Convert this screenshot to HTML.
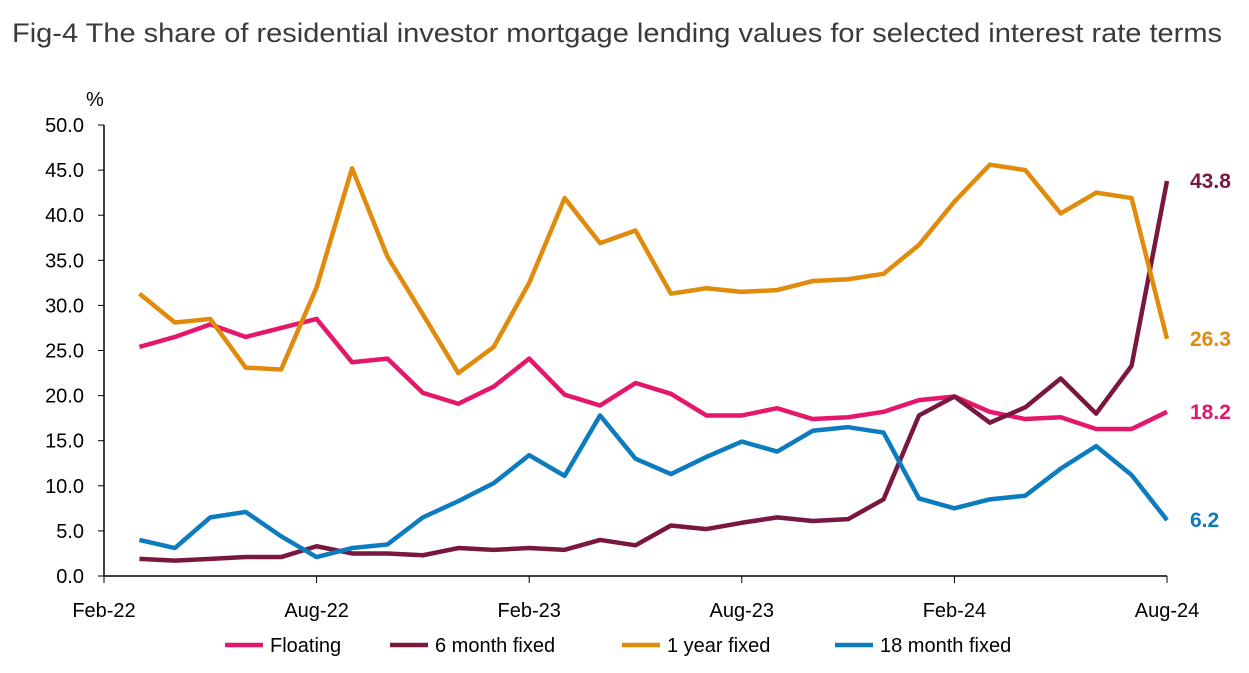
<!DOCTYPE html>
<html><head><meta charset="utf-8"><style>
body{margin:0;background:#fff;font-family:"Liberation Sans",sans-serif;}
</style></head><body>
<svg width="1249" height="668" xmlns="http://www.w3.org/2000/svg" font-family="Liberation Sans, sans-serif">
<text x="12" y="42" font-size="27" fill="#3a3a3a" textLength="1210" lengthAdjust="spacingAndGlyphs">Fig-4 The share of residential investor mortgage lending values for selected interest rate terms</text>
<g id="axes"></g>
<g id="series"></g>
<g id="legend"></g>
</svg>
<script>
const tickLabelsX=["Feb-22","Aug-22","Feb-23","Aug-23","Feb-24","Aug-24"];
const tickValuesY=[0,5,10,15,20,25,30,35,40,45,50];
const floating=[25.4,26.5,27.9,26.5,27.5,28.5,23.7,24.1,20.3,19.1,21.0,24.1,20.1,18.9,21.4,20.2,17.8,17.8,18.6,17.4,17.6,18.2,19.5,19.9,18.2,17.4,17.6,16.3,16.3,18.2];
const sixMonth=[1.9,1.7,1.9,2.1,2.1,3.3,2.5,2.5,2.3,3.1,2.9,3.1,2.9,4.0,3.4,5.6,5.2,5.9,6.5,6.1,6.3,8.5,17.8,19.9,17.0,18.7,21.9,18.0,23.3,43.8];
const oneYear=[31.3,28.1,28.5,23.1,22.9,32.0,45.2,35.4,29.0,22.5,25.4,32.5,41.9,36.9,38.3,31.3,31.9,31.5,31.7,32.7,32.9,33.5,36.7,41.5,45.6,45.0,40.2,42.5,41.9,26.3];
const eighteenMonth=[4.0,3.1,6.5,7.1,4.4,2.1,3.1,3.5,6.5,8.3,10.3,13.4,11.1,17.8,13.0,11.3,13.2,14.9,13.8,16.1,16.5,15.9,8.6,7.5,8.5,8.9,11.9,14.4,11.2,6.2];
const seriesNames=["Floating","6 month fixed","1 year fixed","18 month fixed"];
const NS="http://www.w3.org/2000/svg";
const x0=104,x1=1167,y0=576,y1=125;
const xm=m=>x0+(x1-x0)*m/30;
const y=v=>y0+(y1-y0)*v/50;
function mk(tag,attrs,parent,text){const e=document.createElementNS(NS,tag);for(const k in attrs)e.setAttribute(k,attrs[k]);if(text!==undefined)e.textContent=text;parent.appendChild(e);return e;}
const ax=document.getElementById('axes');
let l=mk('line',{x1:x0,y1:y0,x2:x0,y2:y1,stroke:'#000','stroke-width':1.5},ax);


l=mk('line',{x1:x0,y1:y0,x2:x1,y2:y0,stroke:'#000','stroke-width':1.5},ax);


let t=mk('text',{x:86,y:106,'font-size':20,fill:'#000'},ax,'%');


tickValuesY.forEach(v=>{
  mk('line',{x1:x0-6,y1:y(v),x2:x0,y2:y(v),stroke:'#000'},ax);
  const tt=mk('text',{x:84,y:y(v)+7,'font-size':20,'text-anchor':'end',fill:'#000'},ax,v.toFixed(1));
  
  
});
tickLabelsX.forEach((s,i)=>{
  const xx=xm(i*6);
  mk('line',{x1:xx,y1:y0,x2:xx,y2:y0+7,stroke:'#000'},ax);
  const tt=mk('text',{x:xx,y:617,'font-size':20,'text-anchor':'middle',fill:'#000'},ax,s);
  
  
});
const colors=["#e5176a","#7a173f","#e08b0b","#0d7cbf"];
const data=[floating,sixMonth,oneYear,eighteenMonth];
const sg=document.getElementById('series');
data.forEach((d,k)=>{
  const pts=d.map((v,i)=>xm(i+1)+','+y(v)).join(' ');
  const p=mk('polyline',{points:pts,fill:'none',stroke:colors[k],'stroke-width':4.5,'stroke-linejoin':'round'},sg);
  
  
  const last=d[d.length-1];
  const lt=mk('text',{x:1190,y:y(last)+7,'font-size':21,'font-weight':'bold',fill:colors[k]},sg,last.toFixed(1));
  
  
});
const lg=document.getElementById('legend');
const lx=[225,390,622,835];
seriesNames.forEach((n,k)=>{
  const g=mk('g',{},lg);
  
  
  mk('line',{x1:lx[k],y1:645,x2:lx[k]+38,y2:645,stroke:colors[k],'stroke-width':4.5},g);
  mk('text',{x:lx[k]+45,y:652,'font-size':20,fill:'#000'},g,n);
});
</script>
</body></html>
